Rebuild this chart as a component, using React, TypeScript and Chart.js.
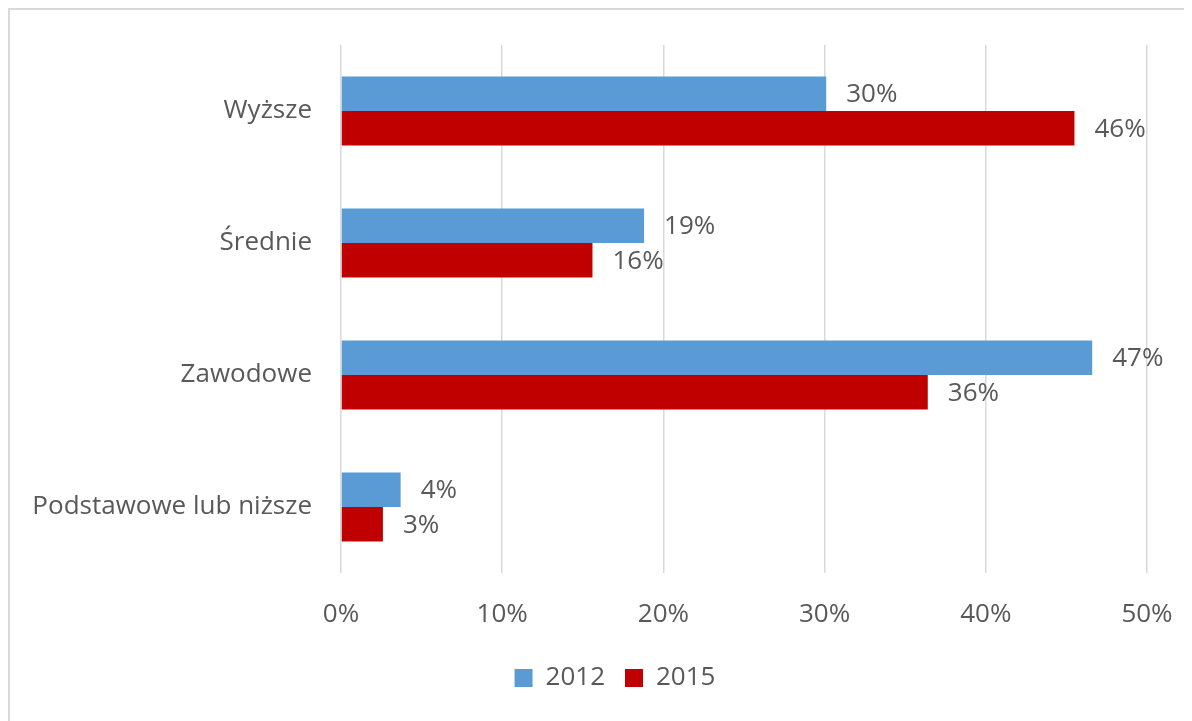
import React, { useEffect, useRef } from "react";
import { Chart, registerables } from "chart.js";

Chart.register(...registerables);

const categories = ["Wyższe", "Średnie", "Zawodowe", "Podstawowe lub niższe"];
const series2012 = [30.1, 18.8, 46.6, 3.7];
const series2015 = [45.5, 15.6, 36.4, 2.6];
const seriesNames = ["2012", "2015"];
const xTicks = [0, 10, 20, 30, 40, 50];

const TEXT = "#595959";
const FONT = "'Open Sans'";

const valueLabels = {
  id: "valueLabels",
  afterDatasetsDraw(chart: any) {
    const ctx = chart.ctx;
    ctx.save();
    ctx.fillStyle = TEXT;
    ctx.font = `26px ${FONT}`;
    ctx.textAlign = "left";
    ctx.textBaseline = "middle";
    chart.data.datasets.forEach((ds: any, i: number) => {
      const meta = chart.getDatasetMeta(i);
      meta.data.forEach((bar: any, j: number) => {
        const v = ds.data[j];
        ctx.fillText(`${Math.round(v)}%`, bar.x + 20, bar.y + 1);
      });
    });
    ctx.restore();
  },
};

export default function App() {
  const ref = useRef<HTMLCanvasElement>(null);
  useEffect(() => {
    if (!ref.current) return;
    let xHeight = 83;
    const pad = { top: 35, right: 0, bottom: 21, left: 0 };
    const chart = new Chart(ref.current, {
      type: "bar",
      data: {
        labels: categories,
        datasets: [
          { label: seriesNames[0], data: series2012, backgroundColor: "#5B9BD5", borderWidth: 0 },
          { label: seriesNames[1], data: series2015, backgroundColor: "#C00000", borderWidth: 0 },
        ],
      },
      options: {
        indexAxis: "y",
        animation: false,
        responsive: false,
        maintainAspectRatio: false,
        layout: { padding: { ...pad } },
        datasets: { bar: { categoryPercentage: 0.523, barPercentage: 1 } },
        scales: {
          x: {
            min: 0,
            max: 50,
            afterBuildTicks: (scale: any) => {
              scale.ticks = xTicks.map((v) => ({ value: v }));
            },
            afterFit: (scale: any) => {
              scale.height = xHeight;
              scale.paddingLeft = 0;
              scale.paddingRight = 73;
            },
            grid: { color: "#d9d9d9", lineWidth: 1.5, drawTicks: false },
            border: { display: false },
            ticks: {
              color: TEXT,
              font: { family: FONT, size: 26 },
              padding: 26,
              callback: (v: any) => `${v}%`,
            },
          },
          y: {
            afterFit: (scale: any) => {
              scale.width = 331;
              scale.paddingTop = 0;
              scale.paddingBottom = 0;
            },
            grid: { display: false, drawTicks: false },
            border: { display: false },
            ticks: {
              color: TEXT,
              font: { family: FONT, size: 26 },
              padding: 29,
            },
          },
        },
        plugins: {
          legend: {
            position: "bottom",
            labels: {
              color: TEXT,
              font: { family: FONT, size: 26 },
              boxWidth: 18,
              boxHeight: 18,
              padding: 20,
            },
          },
          tooltip: { enabled: false },
        },
      },
      plugins: [valueLabels],
    });
    for (let k = 0; k < 4; k++) {
      const hb = (chart as any).legend?.legendHitBoxes?.[0];
      if (hb) {
        const mid = hb.top + hb.height / 2;
        pad.bottom += mid - 668;
      }
      xHeight += chart.chartArea.bottom - 563;
      pad.top += 35 - chart.chartArea.top;
      (chart.options as any).layout.padding = { ...pad };
      chart.update();
    }
    return () => chart.destroy();
  }, []);
  return (
    <div
      style={{
        width: 1184,
        height: 713,
        borderTop: "2px solid #d9d9d9",
        borderLeft: "2px solid #d9d9d9",
        overflow: "hidden",
        boxSizing: "border-box",
        background: "#fff",
      }}
    >
      <canvas ref={ref} width={1210} height={711} style={{ display: "block" }} />
    </div>
  );
}
